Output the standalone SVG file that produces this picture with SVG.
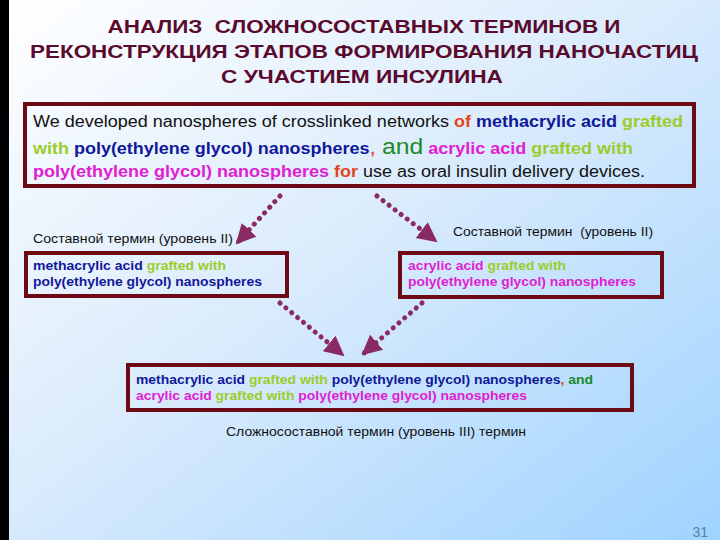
<svg xmlns="http://www.w3.org/2000/svg" width="720" height="540" viewBox="0 0 720 540">
<defs>
<linearGradient id="bg" x1="0" y1="0" x2="1" y2="1">
<stop offset="0" stop-color="#ffffff"/>
<stop offset="0.45" stop-color="#dcecfc"/>
<stop offset="1" stop-color="#9fd3ff"/>
</linearGradient>
<marker id="ah" viewBox="0 0 10 10" refX="9" refY="5" markerWidth="4" markerHeight="4.4" orient="auto" markerUnits="strokeWidth">
<path d="M0,0 L10,5 L0,10 z" fill="#8a2a62"/>
</marker>
<style>
.box{fill:none;stroke:#6e0a16;stroke-width:4}
.title{font-family:"Liberation Sans",Arial,sans-serif;font-weight:bold;font-size:18px;fill:#5a0a2c}
.t{font-family:"Liberation Sans",Arial,sans-serif;font-size:16px}
.s{font-family:"Liberation Sans",Arial,sans-serif;font-size:13px;font-weight:bold}
.lbl{font-family:"Liberation Sans",Arial,sans-serif;font-size:13px;fill:#111}
.b{font-weight:bold}
.blk{fill:#111}
.org{fill:#e2461a}
.blu{fill:#10189a}
.yg{fill:#9acd2a}
.mag{fill:#e020d0}
.grn{fill:#1a8a2a}
.con{fill:none;stroke:#8a2a62;stroke-width:5;stroke-dasharray:0.1 7.5;stroke-linecap:round}
</style>
</defs>
<rect width="720" height="540" fill="url(#bg)"/>
<rect x="0" y="0" width="9" height="540" fill="#000"/>

<g id="title">
<text class="title" x="364" y="33" text-anchor="middle" textLength="513" lengthAdjust="spacingAndGlyphs" xml:space="preserve">АНАЛИЗ  СЛОЖНОСОСТАВНЫХ ТЕРМИНОВ И</text>
<text class="title" x="364" y="58" text-anchor="middle" textLength="668" lengthAdjust="spacingAndGlyphs">РЕКОНСТРУКЦИЯ ЭТАПОВ ФОРМИРОВАНИЯ НАНОЧАСТИЦ</text>
<text class="title" x="362" y="83" text-anchor="middle" textLength="282" lengthAdjust="spacingAndGlyphs">С УЧАСТИЕМ ИНСУЛИНА</text>
</g>

<g id="main">
<rect class="box" x="25" y="104" width="669" height="82"/>
<text class="t" x="33" y="127" textLength="650" lengthAdjust="spacingAndGlyphs"><tspan class="blk">We developed nanospheres of crosslinked networks </tspan><tspan class="org b">of</tspan> <tspan class="blu b">methacrylic acid</tspan> <tspan class="yg b">grafted</tspan></text>
<text class="t" x="33" y="154" textLength="600" lengthAdjust="spacingAndGlyphs"><tspan class="yg b">with</tspan> <tspan class="blu b">poly(ethylene glycol) nanospheres</tspan><tspan class="org" font-size="20">, </tspan><tspan class="grn" font-size="22">and</tspan> <tspan class="mag b">acrylic acid</tspan> <tspan class="yg b">grafted with</tspan></text>
<text class="t" x="33" y="177" textLength="612" lengthAdjust="spacingAndGlyphs"><tspan class="mag b">poly(ethylene glycol) nanospheres</tspan> <tspan class="org b">for</tspan><tspan class="blk"> use as oral insulin delivery devices.</tspan></text>
</g>

<g id="left">
<text class="lbl" x="33" y="243" textLength="200" lengthAdjust="spacingAndGlyphs">Составной термин (уровень II)</text>
<rect class="box" x="26" y="253" width="261" height="43"/>
<text class="s" x="33" y="270" textLength="193" lengthAdjust="spacingAndGlyphs"><tspan class="blu">methacrylic acid</tspan> <tspan class="yg">grafted with</tspan></text>
<text class="s" x="33" y="286" textLength="229" lengthAdjust="spacingAndGlyphs"><tspan class="blu">poly(ethylene glycol) nanospheres</tspan></text>
</g>

<g id="right">
<text class="lbl" x="453" y="236" textLength="200" lengthAdjust="spacingAndGlyphs" xml:space="preserve">Составной термин  (уровень II)</text>
<rect class="box" x="400" y="253" width="262" height="44"/>
<text class="s" x="408" y="270" textLength="158" lengthAdjust="spacingAndGlyphs"><tspan class="mag">acrylic acid</tspan> <tspan class="yg">grafted with</tspan></text>
<text class="s" x="408" y="286" textLength="228" lengthAdjust="spacingAndGlyphs"><tspan class="mag">poly(ethylene glycol) nanospheres</tspan></text>
</g>

<g id="bottom">
<rect class="box" x="128" y="365" width="504" height="45"/>
<text class="s" x="136" y="384" textLength="457" lengthAdjust="spacingAndGlyphs"><tspan class="blu">methacrylic acid</tspan> <tspan class="yg">grafted with</tspan> <tspan class="blu">poly(ethylene glycol) nanospheres</tspan><tspan class="org">,</tspan> <tspan class="grn">and</tspan></text>
<text class="s" x="136" y="400" textLength="391" lengthAdjust="spacingAndGlyphs"><tspan class="mag">acrylic acid</tspan> <tspan class="yg">grafted with</tspan> <tspan class="mag">poly(ethylene glycol) nanospheres</tspan></text>
<text class="lbl" x="376" y="436" text-anchor="middle" textLength="300" lengthAdjust="spacingAndGlyphs">Сложносоставной термин (уровень III) термин</text>
</g>

<g id="connectors">
<path class="con" d="M280,196 L237,243" marker-end="url(#ah)"/>
<path class="con" d="M377,196 L436,241" marker-end="url(#ah)"/>
<path class="con" d="M280,303 L343,355" marker-end="url(#ah)"/>
<path class="con" d="M422,303 L363,354" marker-end="url(#ah)"/>
</g>

<text x="708" y="537" text-anchor="end" font-family="Liberation Sans, Arial, sans-serif" font-size="14" fill="#5a7fa6">31</text>
</svg>
